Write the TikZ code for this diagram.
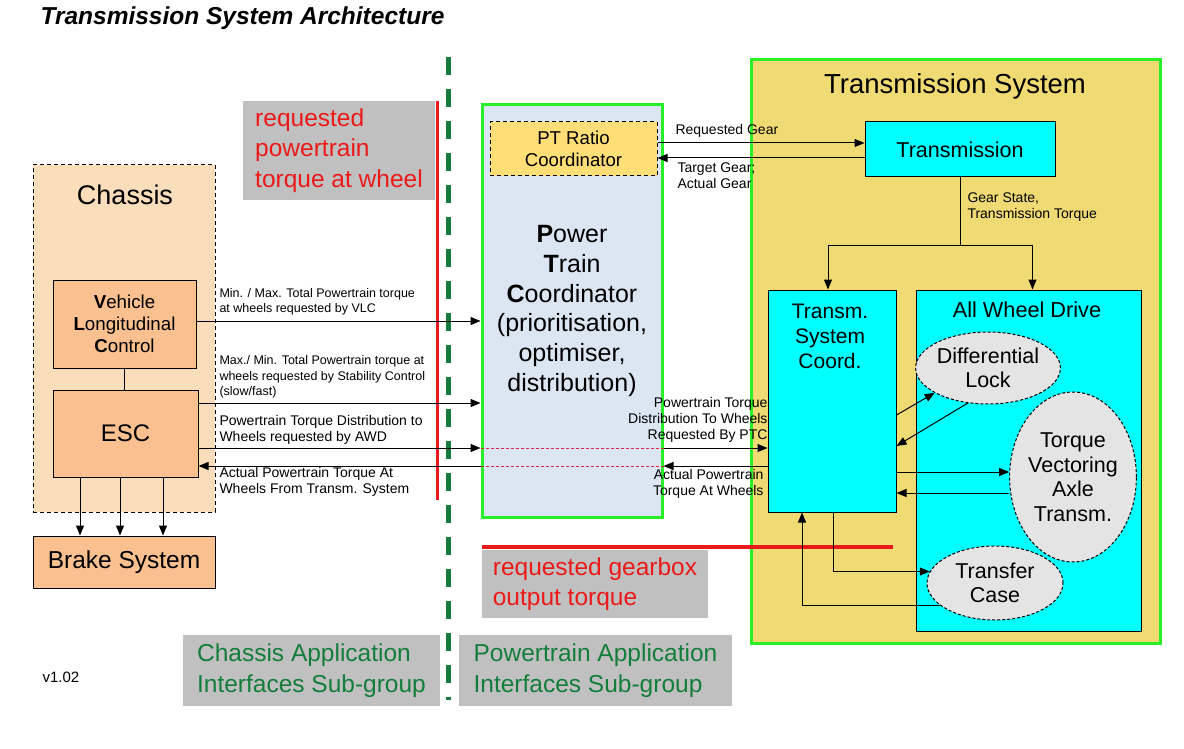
\documentclass[tikz,border=0pt]{standalone}
\usepackage{fontspec}
\setmainfont{Liberation Sans}
\usetikzlibrary{arrows.meta}
\usetikzlibrary{shapes.geometric}

\definecolor{chassisfill}{RGB}{250,221,186}
\definecolor{ecufill}{RGB}{250,192,143}
\definecolor{ptcfill}{RGB}{220,230,242}
\definecolor{ratiofill}{RGB}{255,222,120}
\definecolor{tsysfill}{RGB}{240,218,115}
\definecolor{awdcyan}{RGB}{0,255,255}
\definecolor{lockgray}{RGB}{228,228,228}
\definecolor{limeframe}{RGB}{40,240,40}
\definecolor{notegray}{RGB}{192,192,192}
\definecolor{notered}{RGB}{235,25,25}
\definecolor{splitgreen}{RGB}{20,125,60}
\definecolor{passred}{RGB}{220,40,80}

\begin{document}
\begin{tikzpicture}[x=1pt, y=-1pt, line width=1pt,
  arr/.style={-{Triangle[length=10pt,width=8pt]}},
  box/.style={draw, rectangle, inner sep=0pt, align=center},
  dashbox/.style={box, dash pattern=on 4pt off 3pt},
  frame/.style={draw=limeframe, line width=3pt, rectangle, inner sep=0pt, align=center},
  blob/.style={draw, ellipse, fill=lockgray, dash pattern=on 3pt off 2pt, inner sep=0pt, align=center,
    font=\fontsize{21.5}{24.5}\selectfont},
  graylabel/.style={fill=notegray, inner sep=0pt, align=left, font=\fontsize{24.5}{30.5}\selectfont},
  sigtext/.style={inner sep=0pt, align=left, font=\fontsize{12.5}{15.5}\selectfont},
  sigtextb/.style={inner sep=0pt, align=left, font=\fontsize{14}{16.3}\selectfont},
  redline/.style={draw=notered, line width=3pt},
  passline/.style={draw=passred, dash pattern=on 3pt off 2pt}]
  \useasboundingbox (0,0) rectangle (1184,749);

  % background areas
  \node[frame, fill=tsysfill, minimum width=409pt, minimum height=583pt] (tsys) at (955.5,351.5) {};
  \node[dashbox, fill=chassisfill, minimum width=182pt, minimum height=347pt] (chassis) at (124,338.5) {};
  \node[frame, fill=ptcfill, minimum width=180pt, minimum height=412pt, font=\fontsize{25}{29.8}\selectfont] (ptc) at (572,311)
    {{\bfseries P}ower\\{\bfseries T}rain\\{\bfseries C}oordinator\\(prioritisation,\\optimiser,\\distribution)};

  \node[inner sep=0pt, anchor=west, font=\bfseries\itshape\fontsize{24.5}{30}\selectfont] (title) at (40,18) {Transmission System Architecture};
  \node[font=\fontsize{27.5}{32}\selectfont] (tsystitle) at (955,86) {Transmission System};
  \node[font=\fontsize{27}{32}\selectfont] (chassistitle) at (125,195) {Chassis};

  % chassis side
  \node[box, fill=ecufill, minimum width=143pt, minimum height=88pt, font=\fontsize{18.7}{22}\selectfont] (vlc) at (124.5,324)
    {{\bfseries V}ehicle\\{\bfseries L}ongitudinal\\{\bfseries C}ontrol};
  \node[box, fill=ecufill, minimum width=145pt, minimum height=87pt, font=\fontsize{24}{28}\selectfont] (esc) at (125.5,433.5) {ESC};
  \node[box, fill=ecufill, minimum width=182pt, minimum height=52pt, font=\fontsize{24.5}{28}\selectfont] (brake) at (124,562) {Brake System};

  % powertrain side
  \node[dashbox, fill=ratiofill, minimum width=167pt, minimum height=54pt, font=\fontsize{18.6}{22}\selectfont] (ratio) at (573.5,149)
    {PT Ratio\\Coordinator};
  \node[box, fill=awdcyan, minimum width=190pt, minimum height=55pt, font=\fontsize{21.5}{25}\selectfont] (trans) at (960,149.5) {Transmission};
  \node[box, fill=awdcyan, minimum width=128pt, minimum height=222pt] (tsc) at (832,401) {};
  \node[font=\fontsize{21}{25}\selectfont, align=center] (tsctext) at (830,336) {Transm.\\System\\Coord.};
  \node[box, fill=awdcyan, minimum width=225pt, minimum height=341pt] (awd) at (1028.5,460.5) {};
  \node[font=\fontsize{21.7}{25}\selectfont] (awdtext) at (1027,310) {All Wheel Drive};
  \node[blob, minimum width=132pt, minimum height=72pt] (difflock) at (988,368) {Differential\\Lock};
  \node[blob, minimum width=120pt, minimum height=170pt] (tva) at (1073,477) {Torque\\Vectoring\\Axle\\Transm.};
  \node[blob, minimum width=136pt, minimum height=74pt] (tcase) at (995,583) {Transfer\\Case};

  % notes
  \node[graylabel, text=notered, minimum width=192pt, minimum height=99pt] (reqwheel) at (339,150.5) {requested\\powertrain\\torque at wheel};
  \node[graylabel, text=notered, minimum width=226pt, minimum height=68pt] (reqgearbox) at (595,584) {requested gearbox\\output torque};
  \node[graylabel, text=splitgreen, minimum width=257pt, minimum height=71pt] (chassisgroup) at (311.5,670.5) {Chassis Application\\Interfaces Sub-group};
  \node[graylabel, text=splitgreen, minimum width=273pt, minimum height=71pt] (ptgroup) at (595.5,670.5) {Powertrain Application\\Interfaces Sub-group};
  \node[inner sep=0pt, anchor=west, font=\fontsize{15}{18}\selectfont] (version) at (42,677) {v1.02};

  \draw[redline] (437,101) -- (437,500);
  \draw[redline, line width=4pt] (482,547) -- (893,547);
  \draw[draw=splitgreen, line width=5pt, dash pattern=on 18pt off 14pt] (448,57) -- (448,700);

  % signals chassis <-> powertrain
  \node[sigtext, anchor=west] (vlcsig) at (219,302) {Min. / Max. Total Powertrain torque\\at wheels requested by VLC};
  \node[sigtext, anchor=west] (escsig) at (219,377) {Max./ Min. Total Powertrain torque at\\wheels requested by Stability Control\\(slow/fast)};
  \node[sigtextb, anchor=west] (awdsig) at (219,430) {Powertrain Torque Distribution to\\Wheels requested by AWD};
  \node[sigtextb, anchor=west] (actsig) at (219,482) {Actual Powertrain Torque At\\Wheels From Transm. System};
  \draw[arr] (vlc.east |- 0,321) -- (ptc.west |- 0,321);
  \draw[arr] (esc.east |- 0,403) -- (ptc.west |- 0,403);
  \draw[arr] (esc.east |- 0,448) -- (ptc.west |- 0,448);
  \draw[passline] (ptc.west |- 0,448) -- (ptc.east |- 0,448);
  \draw[arr] (ptc.east |- 0,448) -- (tsc.west |- 0,448);
  \draw[arr] (tsc.west |- 0,466) -- (ptc.east |- 0,466);
  \draw[passline] (ptc.east |- 0,466) -- (ptc.west |- 0,466);
  \draw[arr] (ptc.west |- 0,466) -- (esc.east |- 0,466);
  \node[sigtextb, anchor=east, align=right] (ptcsig) at (768,420) {Powertrain Torque\\Distribution To Wheels\\Requested By PTC};
  \node[sigtextb, anchor=east, align=right] (tscsig) at (764,484) {Actual Powertrain\\Torque At Wheels};

  % chassis internal
  \draw (vlc.south) -- (vlc.south |- esc.north);
  \foreach \x in {80,120,163}
    \draw[arr] (esc.south -| \x,0) -- (brake.north -| \x,0);

  % gear handling
  \node[sigtextb, anchor=west] (reqgear) at (675,131) {Requested Gear};
  \node[sigtextb, anchor=west] (tgtgear) at (677,176) {Target Gear;\\Actual Gear};
  \draw[arr] (ratio.east |- 0,143) -- (trans.west |- 0,143);
  \draw[arr] (trans.west |- 0,158) -- (ratio.east |- 0,158);
  \node[sigtextb, anchor=west] (gearstate) at (967,207) {Gear State,\\Transmission Torque};
  \coordinate (gs) at (960,245);
  \draw (trans.south) -- (gs);
  \draw[arr] (gs) -| ([xshift=-4pt]tsc.north);
  \draw[arr] (gs) -| ([xshift=4pt]awd.north);

  % transmission system internal
  \draw[arr] (tsc.east |- 0,415) -- (difflock.205);
  \draw[arr] (difflock.240) -- (tsc.east |- 0,446);
  \draw[arr] (tsc.east |- 0,472) -- (tva.west |- 0,472);
  \draw[arr] (tva.west |- 0,493) -- (tsc.east |- 0,493);
  \draw[arr] (tsc.south -| 833,0) |- (tcase.170);
  \draw[arr] (tcase.202) -| (tsc.south -| 802,0);
\end{tikzpicture}
\end{document}
